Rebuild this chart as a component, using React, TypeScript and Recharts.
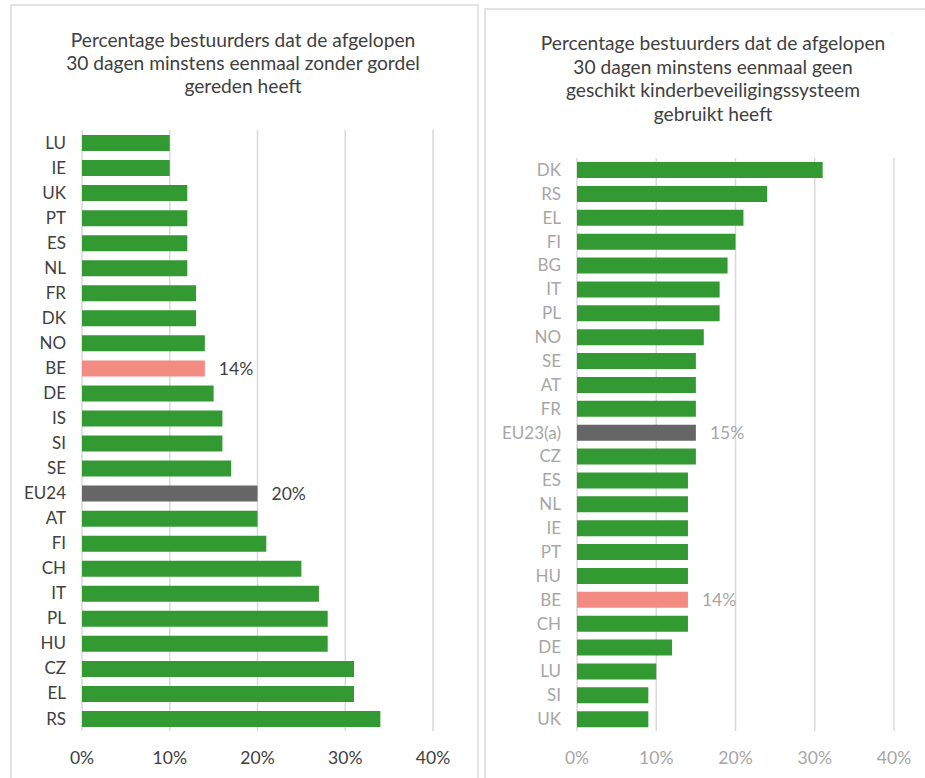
import { BarChart, Bar, XAxis, YAxis, CartesianGrid, Cell, LabelList } from 'recharts';

// Left panel: zonder gordel
const leftCountries = ['LU', 'IE', 'UK', 'PT', 'ES', 'NL', 'FR', 'DK', 'NO', 'BE', 'DE', 'IS', 'SI', 'SE', 'EU24', 'AT', 'FI', 'CH', 'IT', 'PL', 'HU', 'CZ', 'EL', 'RS'];
const leftValues = [10, 10, 12, 12, 12, 12, 13, 13, 14, 14, 15, 16, 16, 17, 20, 20, 21, 25, 27, 28, 28, 31, 31, 34];
const leftTitle = ['Percentage bestuurders dat de afgelopen', '30 dagen minstens eenmaal zonder gordel', 'gereden heeft'];

// Right panel: kinderbeveiligingssysteem
const rightCountries = ['DK', 'RS', 'EL', 'FI', 'BG', 'IT', 'PL', 'NO', 'SE', 'AT', 'FR', 'EU23(a)', 'CZ', 'ES', 'NL', 'IE', 'PT', 'HU', 'BE', 'CH', 'DE', 'LU', 'SI', 'UK'];
const rightValues = [31, 24, 21, 20, 19, 18, 18, 16, 15, 15, 15, 15, 15, 14, 14, 14, 14, 14, 14, 14, 12, 10, 9, 9];
const rightTitle = ['Percentage bestuurders dat de afgelopen', '30 dagen minstens eenmaal geen', 'geschikt kinderbeveiligingssysteem', 'gebruikt heeft'];

const xTicks = [0, 10, 20, 30, 40];

const GREEN = '#339933';
const PINK = '#F28C82';
const GREY = '#666666';
const FONT = 'Lato, "Open Sans", sans-serif';

function colorFor(name: string) {
  if (name === 'BE') return PINK;
  if (name.startsWith('EU')) return GREY;
  return GREEN;
}

function buildRows(countries: string[], values: number[]) {
  return countries.map((c, i) => ({
    country: c,
    value: values[i],
    label: c === 'BE' || c.startsWith('EU') ? `${values[i]}%` : null,
  }));
}

interface PanelProps {
  rows: { country: string; value: number; label: string | null }[];
  title: string[];
  width: number;
  height: number;
  yAxisWidth: number;
  marginTop: number;
  marginRight: number;
  labelColor: string;
  titleCenter: number;
  titleTop: number;
  lineHeight: number;
}

function Panel({ rows, title, width, height, yAxisWidth, marginTop, marginRight, labelColor, titleCenter, titleTop, lineHeight }: PanelProps) {
  return (
    <div style={{ position: 'relative', width, height }}>
      {title.map((t, i) => (
        <div
          key={i}
          style={{
            position: 'absolute',
            left: titleCenter - 250,
            width: 500,
            top: titleTop + i * lineHeight,
            height: lineHeight,
            lineHeight: `${lineHeight}px`,
            textAlign: 'center',
            fontSize: 19.2,
            color: '#404040',
            fontFamily: FONT,
            whiteSpace: 'nowrap',
          }}
        >
          {t}
        </div>
      ))}
      <div style={{ position: 'absolute', left: 0, top: 0 }}>
        <BarChart
          width={width}
          height={height}
          data={rows}
          layout="vertical"
          margin={{ top: marginTop, right: marginRight, left: 0, bottom: 17 }}
          barSize={16}
        >
          <CartesianGrid horizontal={false} stroke="#d9d9d9" strokeWidth={1.5} />
          <XAxis
            type="number"
            domain={[0, 40]}
            ticks={xTicks}
            tickFormatter={(v: number) => `${v}%`}
            axisLine={false}
            tickLine={false}
            tickMargin={15}
            height={30}
            tick={{ fontSize: 17.5, fill: labelColor, fontFamily: FONT }}
          />
          <YAxis
            type="category"
            dataKey="country"
            width={yAxisWidth}
            axisLine={false}
            tickLine={false}
            tickMargin={10}
            interval={0}
            tick={{ fontSize: 17, fill: labelColor, fontFamily: FONT }}
          />
          <Bar dataKey="value" isAnimationActive={false}>
            {rows.map((r) => (
              <Cell key={r.country} fill={colorFor(r.country)} />
            ))}
            <LabelList
              dataKey="label"
              content={(p: any) => {
                if (p.value == null) return null;
                return (
                  <text
                    x={Number(p.x) + Number(p.width) + 14}
                    y={Number(p.y) + Number(p.height) / 2}
                    dominantBaseline="central"
                    fontSize={17.5}
                    fontFamily={FONT}
                    fill={labelColor}
                  >
                    {p.value}
                  </text>
                );
              }}
            />
          </Bar>
        </BarChart>
      </div>
    </div>
  );
}

export default function App() {
  const leftRows = buildRows(leftCountries, leftValues);
  const rightRows = buildRows(rightCountries, rightValues);
  return (
    <div style={{ position: 'absolute', left: 0, top: 0, width: 925, height: 778, overflow: 'hidden', background: '#fff' }}>
      <div style={{ position: 'absolute', left: 10, top: 4, width: 465, height: 800, borderLeft: '2px solid #e4e4e4', borderTop: '2px solid #e4e4e4', borderRight: '2px solid #e4e4e4' }} />
      <div style={{ position: 'absolute', left: 484, top: 8, width: 460, height: 800, borderLeft: '2px solid #e4e4e4', borderTop: '2px solid #e4e4e4' }} />
      <div style={{ position: 'absolute', left: 0, top: 0 }}>
        <Panel
          rows={leftRows}
          title={leftTitle}
          width={476}
          height={778}
          yAxisWidth={82}
          marginTop={130}
          marginRight={43}
          labelColor="#404040"
          titleCenter={243}
          titleTop={28}
          lineHeight={23}
        />
      </div>
      <div style={{ position: 'absolute', left: 485, top: 0 }}>
        <Panel
          rows={rightRows}
          title={rightTitle}
          width={440}
          height={778}
          yAxisWidth={92}
          marginTop={158}
          marginRight={31}
          labelColor="#a6a6a6"
          titleCenter={228}
          titleTop={31}
          lineHeight={23.5}
        />
      </div>
    </div>
  );
}
